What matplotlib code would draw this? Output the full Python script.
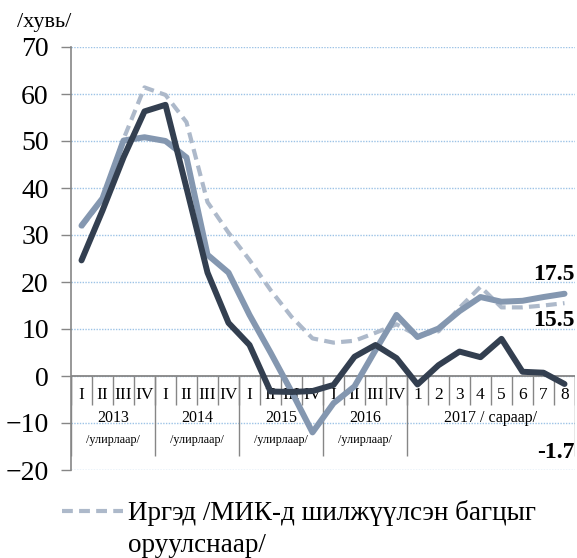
import numpy as np
import matplotlib
matplotlib.use("Agg")
import matplotlib.pyplot as plt
import matplotlib.transforms as mtransforms
from matplotlib.lines import Line2D

plt.rcParams['font.family'] = ['Liberation Serif', 'DejaVu Serif']

# categories: quarters 2013-2016, then months of 2017
cat_labels = ['I', 'II', 'III', 'IV'] * 4 + ['1', '2', '3', '4', '5', '6', '7', '8']
groups = ['2013', '2014', '2015', '2016', '2017 / сараар/']
group_sub = ['/улирлаар/', '/улирлаар/', '/улирлаар/', '/улирлаар/', '']
group_sizes = [4, 4, 4, 4, 8]

# series values, %
dark = [24.6, 35.2, 46.5, 56.3, 57.7, 40.0, 22.0, 11.3, 6.6, -3.3, -3.4, -3.2,
        -1.9, 4.1, 6.6, 3.8, -1.8, 2.3, 5.2, 4.0, 7.9, 0.9, 0.7, -1.7]
medium = [32.0, 37.8, 50.1, 50.8, 50.0, 46.5, 25.8, 22.0, 13.0, 5.0, -3.3, -12.0,
          -5.8, -2.2, 5.5, 13.0, 8.3, 10.1, 13.8, 16.8, 15.8, 16.0, 16.8, 17.5]
dashed = [31.6, 37.6, 50.4, 61.4, 59.8, 54.0, 37.0, 30.5, 24.7, 18.3, 12.6, 8.0,
          7.1, 7.5, 9.2, 11.0, 8.6, 9.5, 14.5, 19.0, 14.6, 14.6, 15.0, 15.5]
legend_label = 'Иргэд /МИК-д шилжүүлсэн багцыг'
legend_label2 = 'оруулснаар/'

c_dark = '#333F50'
c_med = '#8497B0'
c_dash = '#ADB9CA'
c_axis = '#868686'

fig = plt.figure(figsize=(5.77, 5.58), dpi=100)
ax = fig.add_axes([71/577, 1-470/558, (575-71)/577, (470-47)/558])

x = np.arange(len(cat_labels))
ax.plot(x, dashed, color=c_dash, lw=3.0, ls=(0, (2.6, 1.5)), zorder=3)
ax.plot(x, medium, color=c_med, lw=4.3, solid_capstyle='round', zorder=4)
ax.plot(x, dark, color=c_dark, lw=4.3, solid_capstyle='round', zorder=5)

ax.set_xlim(-0.5, len(cat_labels) - 0.5)
ax.set_ylim(-20, 70)
ax.set_yticks(np.arange(-20, 71, 10))
ax.yaxis.grid(True, color='#9DC3E6', ls=(0, (1, 1)), lw=1.0)
ax.set_axisbelow(True)
ax.tick_params(axis='y', labelsize=20, length=7, width=1, color=c_axis, pad=9)
ax.set_xticks([])
for s in ['top', 'right', 'bottom']:
    ax.spines[s].set_visible(False)
ax.spines['left'].set_color(c_axis)
ax.spines['left'].set_linewidth(1.2)

# category axis at zero
ax.axhline(0, color=c_axis, lw=1.3, zorder=2)
bounds = np.arange(len(cat_labels) + 1) - 0.5
ax.vlines(bounds, -6.2, 0, color=c_axis, lw=1.0, zorder=2)
for i, lab in enumerate(cat_labels):
    ax.text(i, -4.0, lab, ha='center', va='center', fontsize=12.5, zorder=1)

start = 0
for g, sub, n in zip(groups, group_sub, group_sizes):
    ax.vlines(start - 0.5, -17.0, 0, color=c_axis, lw=1.0, zorder=2)
    mid = start + (n - 1) / 2
    ax.text(mid, -8.9, g, ha='center', va='center', fontsize=11.5)
    if sub:
        ax.text(mid, -13.6, sub, ha='center', va='center', fontsize=8.7)
    start += n
ax.vlines(start - 0.5, -17.0, 0, color=c_axis, lw=1.0, zorder=2)

# end value labels
tr = mtransforms.blended_transform_factory(ax.transAxes, ax.transData)
ax.text(1.0, 21.6, f'{medium[-1]:.1f}', transform=tr, ha='right', va='center',
        fontsize=17, fontweight='bold', clip_on=False)
ax.text(1.0, 11.9, f'{dashed[-1]:.1f}', transform=tr, ha='right', va='center',
        fontsize=17, fontweight='bold', clip_on=False)
ax.text(1.0, -16.2, f'{dark[-1]:.1f}', transform=tr, ha='right', va='center',
        fontsize=17, fontweight='bold', clip_on=False)

fig.text(17/577, 1-22/558, '/хувь/', fontsize=16, ha='left', va='center')

h = Line2D([], [], color=c_dash, lw=3.0, ls=(0, (2.6, 1.5)))
fig.legend([h], [legend_label], loc='center left', bbox_to_anchor=(62/577, 1-513/558),
           frameon=False, fontsize=19.5, handlelength=2.25, handletextpad=0.2,
           borderpad=0, borderaxespad=0)
fig.text(128/577, 1-545/558, legend_label2, fontsize=19.5, ha='left', va='center')

fig.savefig('out.png', dpi=100)
